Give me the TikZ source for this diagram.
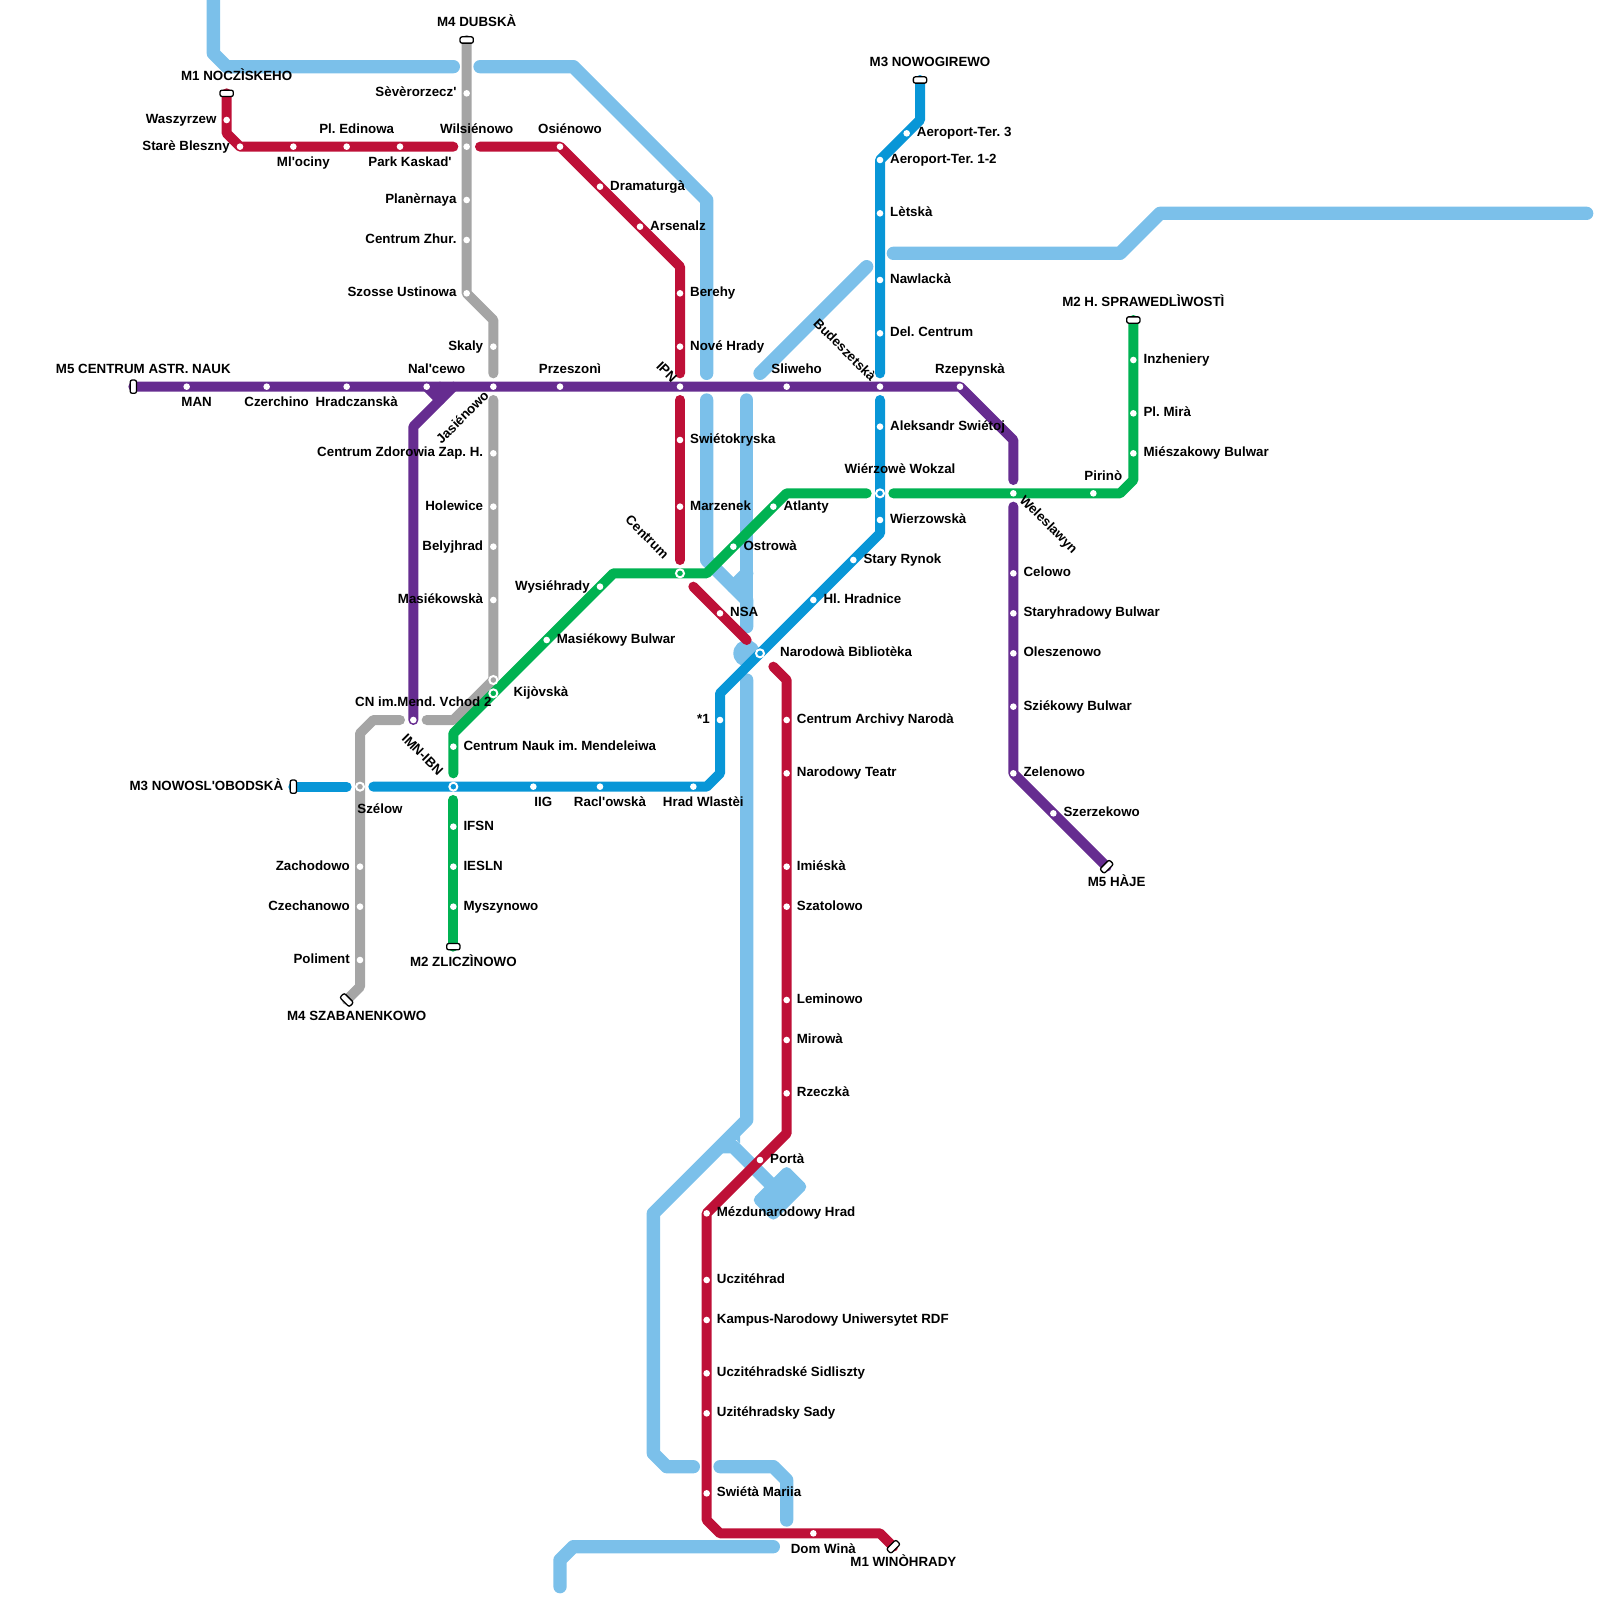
\documentclass[tikz,border=0pt]{standalone}
\usepackage{fontspec}
\newfontfamily\labfont{Liberation Sans Bold}
\pgfdeclarelayer{bg}
\pgfsetlayers{bg,main}
\definecolor{lblue}{HTML}{7BC0EA}
\definecolor{mred}{HTML}{BE1037}
\definecolor{mpurple}{HTML}{662C90}
\definecolor{mgray}{HTML}{A5A5A5}
\definecolor{mblue}{HTML}{0896D7}
\definecolor{mgreen}{HTML}{00B252}
\tikzset{
  metro/.style={line width=10pt,line cap=round,line join=round,draw=#1},
  river/.style={line width=13.33pt,line cap=round,line join=round,draw=lblue},
  stdot/.style={circle,fill=white,inner sep=0pt,minimum size=6.6pt},
  string/.style={circle,draw=white,line width=2pt,fill=#1,inner sep=0pt,minimum size=8pt},
  termbox/.style={rectangle,rounded corners=2pt,draw=black,line width=1.3pt,fill=white,inner sep=0pt,minimum width=13.3pt,minimum height=6.3pt},
  txt/.style={font=\labfont\fontsize{13.33}{15}\selectfont\frenchspacing,inner sep=0pt},
  lr/.style={txt,anchor=mid west,xshift=10pt,yshift=-1.3pt},
  ll/.style={txt,anchor=mid east,xshift=-10pt,yshift=-1.3pt},
  la/.style={txt,anchor=mid,xshift=10pt,yshift=15.3pt},
  lb/.style={txt,anchor=mid,xshift=10pt,yshift=-18pt},
  rl/.style={txt,anchor=mid east,rotate=-45},
  rw/.style={txt,anchor=mid west,rotate=-45},
  ru/.style={txt,anchor=mid east,rotate=45},
}
\newcommand\dotn[3]{\coordinate (#1) at (#2,#3);\node[stdot] (#1d) at (#1) {};}
\newcommand\stn[5]{\dotn{#1}{#2}{#3}\node[#4] (#1l) at (#1) {#5};}
\newcommand\term[6]{\coordinate (#1) at (#2,#3);\node[termbox,rotate=#4] (#1d) at (#1) {};\node[#5] (#1l) at (#1) {#6};}
\begin{document}
\begin{tikzpicture}[x=13.33333pt,y=-13.33333pt]
\useasboundingbox (0,0) rectangle (120,120);
% terminals
\term{tnoc}{17}{7}{0}{la}{M1 NOCZÌSKEHO}
\term{twin}{67}{116}{45}{lb}{M1 WINÒHRADY}
\term{tdub}{35}{3}{0}{la}{M4 DUBSKÀ}
\term{tsza}{26}{75}{-45}{lb}{M4 SZABANENKOWO}
\term{tcen}{10}{29}{90}{la}{M5 CENTRUM ASTR. NAUK}
\term{thaj}{83}{65}{45}{lb}{M5 HÀJE}
\term{tnog}{69}{6}{0}{la}{M3 NOWOGIREWO}
\term{tnos}{22}{59}{90}{ll}{M3 NOWOSL'OBODSKÀ}
\term{tspr}{85}{24}{0}{la}{M2 H. SPRAWEDLÌWOSTÌ}
\term{tzli}{34}{71}{0}{lb}{M2 ZLICZÌNOWO}
% red stations
\stn{wasz}{17}{9}{ll}{Waszyrzew}
\stn{stare}{18}{11}{ll}{Starè Bleszny}
\stn{mlo}{22}{11}{lb}{Ml'ociny}
\stn{pled}{26}{11}{la}{Pl. Edinowa}
\stn{park}{30}{11}{lb}{Park Kaskad'}
\stn{wils}{35}{11}{la}{Wilsiénowo}
\stn{osi}{42}{11}{la}{Osiénowo}
\stn{dram}{45}{14}{lr}{Dramaturgà}
\stn{arse}{48}{17}{lr}{Arsenalz}
\stn{bere}{51}{22}{lr}{Berehy}
\stn{nove}{51}{26}{lr}{Nové Hrady}
\stn{ipn}{51}{29}{xshift=-7pt,yshift=5pt,rl}{IPN}
\stn{swie}{51}{33}{lr}{Swiétokryska}
\stn{marz}{51}{38}{lr}{Marzenek}
\stn{nsa}{54}{46}{lr}{NSA}
\stn{arch}{59}{54}{lr}{Centrum Archivy Narodà}
\stn{teat}{59}{58}{lr}{Narodowy Teatr}
\stn{imie}{59}{65}{lr}{Imiéskà}
\stn{szat}{59}{68}{lr}{Szatolowo}
\stn{lemi}{59}{75}{lr}{Leminowo}
\stn{miro}{59}{78}{lr}{Mirowà}
\stn{rzec}{59}{82}{lr}{Rzeczkà}
\stn{port}{57}{87}{lr}{Portà}
\stn{mezd}{53}{91}{lr}{Mézdunarodowy Hrad}
\stn{ucz}{53}{96}{lr}{Uczitéhrad}
\stn{kamp}{53}{99}{lr}{Kampus-Narodowy Uniwersytet RDF}
\stn{usid}{53}{103}{lr}{Uczitéhradské Sidliszty}
\stn{usad}{53}{106}{lr}{Uzitéhradsky Sady}
\stn{swim}{53}{112}{lr}{Swiétà Mariia}
\stn{domw}{61}{115}{lb}{Dom Winà}
% gray stations
\stn{seve}{35}{7}{ll}{Sèvèrorzecz'}
\stn{plan}{35}{15}{ll}{Planèrnaya}
\stn{zhur}{35}{18}{ll}{Centrum Zhur.}
\stn{szos}{35}{22}{ll}{Szosse Ustinowa}
\stn{skal}{37}{26}{ll}{Skaly}
\stn{jasi}{37}{29}{xshift=-5pt,yshift=-8pt,ru}{Jasiénowo}
\stn{zdor}{37}{34}{ll}{Centrum Zdorowia Zap. H.}
\stn{hole}{37}{38}{ll}{Holewice}
\stn{bely}{37}{41}{ll}{Belyjhrad}
\stn{masi}{37}{45}{ll}{Masiékowskà}
\coordinate (kijg) at (37,51);\node[string=mgray] (kijgd) at (kijg) {};
\stn{zach}{27}{65}{ll}{Zachodowo}
\stn{czec}{27}{68}{ll}{Czechanowo}
\stn{poli}{27}{72}{ll}{Poliment}
\coordinate (szel) at (27,59);\node[string=mgray] (szeld) at (szel) {};\node[lb,xshift=10pt,yshift=-6.7pt] (szell) at (szel) {Szélow};
% purple stations
\stn{man}{14}{29}{lb}{MAN}
\stn{czer}{20}{29}{lb}{Czerchino}
\stn{hrad}{26}{29}{lb}{Hradczanskà}
\stn{nalc}{32}{29}{la}{Nal'cewo}
\stn{prze}{42}{29}{la}{Przeszonì}
\stn{sliw}{59}{29}{la}{Sliweho}
\stn{bude}{66}{29}{xshift=-8pt,yshift=6pt,rl}{Budeszetskà}
\stn{rzep}{72}{29}{la}{Rzepynskà}
\stn{wele}{76}{37}{xshift=7pt,yshift=-6pt,rw}{Weleslawyn}
\stn{celo}{76}{43}{lr}{Celowo}
\stn{star}{76}{46}{lr}{Staryhradowy Bulwar}
\stn{oles}{76}{49}{lr}{Oleszenowo}
\stn{szie}{76}{53}{lr}{Sziékowy Bulwar}
\stn{zele}{76}{58}{lr}{Zelenowo}
\stn{szer}{79}{61}{lr}{Szerzekowo}
\stn{cnim}{31}{54}{la}{CN im.Mend. Vchod 2}
% dark blue stations
\stn{aerc}{68}{10}{lr}{Aeroport-Ter. 3}
\stn{aerb}{66}{12}{lr}{Aeroport-Ter. 1-2}
\stn{lets}{66}{16}{lr}{Lètskà}
\stn{nawl}{66}{21}{lr}{Nawlackà}
\stn{delc}{66}{25}{lr}{Del. Centrum}
\stn{alek}{66}{32}{lr}{Aleksandr Swiétoj}
\coordinate (wiok) at (66,37);\node[string=mblue] (wiokd) at (wiok) {};\node[la,xshift=10pt,yshift=6.7pt] (wiokl) at (wiok) {Wiérzowè Wokzal};
\stn{wier}{66}{39}{lr}{Wierzowskà}
\stn{stry}{64}{42}{lr}{Stary Rynok}
\stn{hlhr}{61}{45}{lr}{Hl. Hradnice}
\coordinate (naro) at (57,49);\node[string=mblue] (narod) at (naro) {};\node[lr,xshift=10pt] (narol) at (naro) {Narodowà Bibliotèka};
\stn{aste}{54}{54}{ll}{*1}
\stn{hrwl}{52}{59}{lb}{Hrad Wlastèi}
\stn{racl}{45}{59}{lb}{Racl'owskà}
\stn{iig}{40}{59}{lb}{IIG}
\coordinate (imn) at (34,59);\node[string=mblue] (imnd) at (imn) {};\node[xshift=-14pt,yshift=12pt,rl] (imnl) at (imn) {IMN-IBN};
% green stations
\stn{inzh}{85}{27}{lr}{Inzheniery}
\stn{plmi}{85}{31}{lr}{Pl. Mirà}
\stn{mies}{85}{34}{lr}{Miészakowy Bulwar}
\stn{piri}{82}{37}{la}{Pirinò}
\stn{atla}{58}{38}{lr}{Atlanty}
\stn{ostr}{55}{41}{lr}{Ostrowà}
\coordinate (cent) at (51,43);\node[string=mgreen] (centd) at (cent) {};\node[xshift=-15pt,yshift=15pt,rl] (centl) at (cent) {Centrum};
\stn{wysi}{45}{44}{ll}{Wysiéhrady}
\stn{masb}{41}{48}{lr}{Masiékowy Bulwar}
\coordinate (kijo) at (37,52);\node[string=mgreen] (kijod) at (kijo) {};\node[lr,xshift=10pt] (kijol) at (kijo) {Kijòvskà};
\stn{cnau}{34}{56}{lr}{Centrum Nauk im. Mendeleiwa}
\stn{ifsn}{34}{62}{lr}{IFSN}
\stn{iesl}{34}{65}{lr}{IESLN}
\stn{mysz}{34}{68}{lr}{Myszynowo}
\begin{pgfonlayer}{bg}
% light blue
\draw[river] (16,-1) -- (16,4) -- (17,5) -- (34,5);
\draw[river] (36,5) -- (43,5) -- (53,15) -- (53,28);
\draw[river] (53,30) -- (53,42) -- (56,45) -- (56,47);
\draw[river] (56,30) -- (56,45);
\draw[river] (56,43) -- (55,44);
\draw[river] (56,51) -- (56,84) -- (49,91) -- (49,109) -- (50,110) -- (52,110);
\draw[river] (54,110) -- (58,110) -- (59,111) -- (59,114);
\draw[river] (58,116) -- (43,116) -- (42,117) -- (42,119);
\draw[river] (57,28) -- (65,20);
\draw[river] (67,19) -- (84,19) -- (87,16) -- (119,16);
\draw[river,line cap=butt] (54,86) -- (55,86) -- (59,90);
\fill[lblue] (55.125,85.375) -- (55.5,85) -- (55.5,85.75) -- cycle;
\fill[lblue,rounded corners=5pt] (59,87.375) -- (60.625,89) -- (58,91.625) -- (56.375,90) -- cycle;
\fill[lblue] (56,49) circle[radius=1];
% gray
\draw[metro=mgray] (tdub) -- (szos) -- (37,24) -- (37,28);
\draw[metro=mgray] (37,30) -- (kijg) -- (34,54) -- (32,54);
\draw[metro=mgray] (30,54) -- (28,54) -- (27,55) -- (27,74) -- (tsza);
% purple
\draw[metro=mpurple] (tcen) -- (rzep) -- (76,33) -- (76,36);
\draw[metro=mpurple] (76,38) -- (zele) -- (thaj);
\draw[metro=mpurple] (nalc) -- (33,30) -- (33,29);
\draw[metro=mpurple] (34,29) -- (31,32) -- (cnim);
% red
\draw[metro=mred] (tnoc) -- (17,10) -- (stare) -- (34,11);
\draw[metro=mred] (36,11) -- (osi) -- (51,20) -- (51,28);
\draw[metro=mred] (51,30) -- (51,42);
\draw[metro=mred] (52,44) -- (56,48);
\draw[metro=mred] (58,50) -- (59,51) -- (59,85) -- (mezd) -- (53,114) -- (54,115) -- (66,115) -- (twin);
% dark blue
\draw[metro=mblue] (tnog) -- (69,9) -- (aerb) -- (66,28);
\draw[metro=mblue] (66,30) -- (66,40) -- (54,52) -- (54,58) -- (53,59) -- (28,59);
\draw[metro=mblue] (tnos) -- (26,59);
% green
\draw[metro=mgreen] (tspr) -- (85,36) -- (84,37) -- (67,37);
\draw[metro=mgreen] (65,37) -- (59,37) -- (53,43) -- (46,43) -- (34,55) -- (34,58);
\draw[metro=mgreen] (34,60) -- (tzli);
\end{pgfonlayer}
\end{tikzpicture}
\end{document}
